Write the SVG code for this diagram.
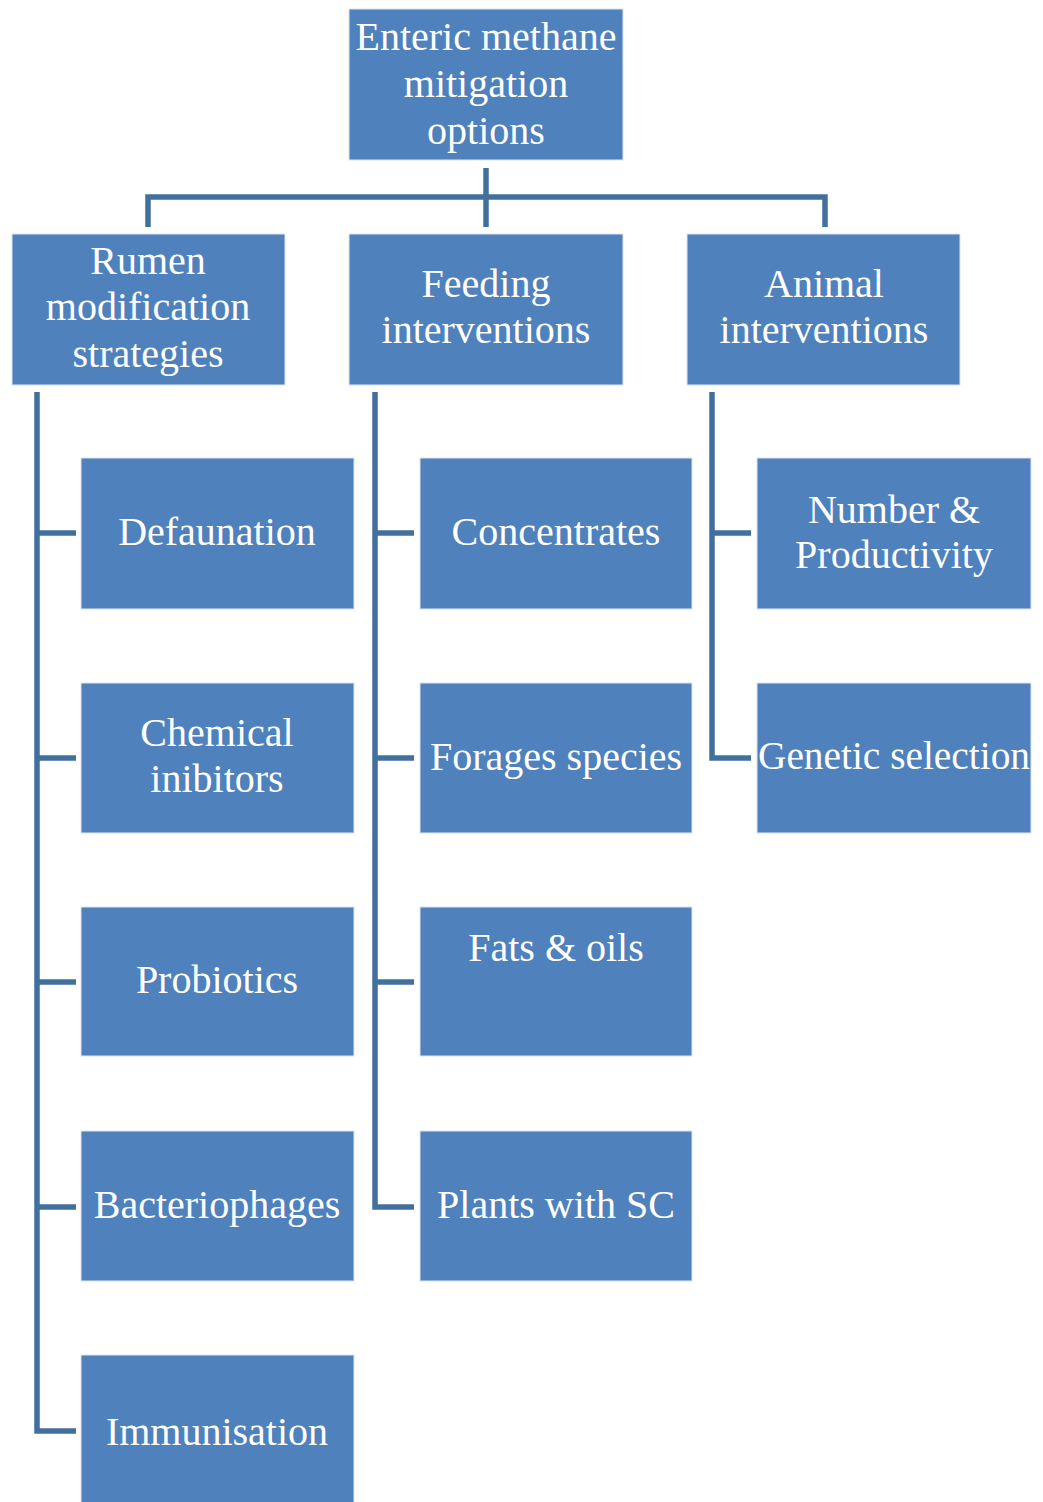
<svg xmlns="http://www.w3.org/2000/svg" width="1043" height="1502" viewBox="0 0 1043 1502">
<style>
.box{fill:#4F81BD;stroke:#DCE6F2;stroke-width:1}
.t{font-family:"Liberation Serif","Times New Roman",serif;font-size:40px;fill:#FFFFFF;text-anchor:middle}
.c{fill:none;stroke:#41709F;stroke-width:5.5;stroke-linejoin:miter;stroke-linecap:butt}
</style>
<rect width="1043" height="1502" fill="#FFFFFF"/>
<g id="connectors">
<path class="c" d="M486 168V197M148 227V197H825V227M486 197V227"/>
<path class="c" d="M37 392V1431H76M37 533H76M37 758H76M37 982H76M37 1207H76"/>
<path class="c" d="M375 392V1207H414M375 533H414M375 758H414M375 982H414"/>
<path class="c" d="M712 392V758H751M712 533H751"/>
</g>
<g id="root"><rect class="box" x="349" y="9" width="274" height="151"/>
<text class="t" x="486" y="50">Enteric methane</text><text class="t" x="486" y="97">mitigation</text><text class="t" x="486" y="144">options</text></g>
<g id="rumen"><rect class="box" x="12" y="234" width="273" height="151"/>
<text class="t" x="148" y="274">Rumen</text><text class="t" x="148" y="320">modification</text><text class="t" x="148" y="367">strategies</text></g>
<g id="feeding"><rect class="box" x="349" y="234" width="274" height="151"/>
<text class="t" x="486" y="297">Feeding</text><text class="t" x="486" y="343">interventions</text></g>
<g id="animal"><rect class="box" x="687" y="234" width="273" height="151"/>
<text class="t" x="824" y="297">Animal</text><text class="t" x="824" y="343">interventions</text></g>
<g id="defaunation"><rect class="box" x="81" y="458" width="273" height="151"/><text class="t" x="217" y="545">Defaunation</text></g>
<g id="chemical"><rect class="box" x="81" y="683" width="273" height="150"/><text class="t" x="217" y="746">Chemical</text><text class="t" x="217" y="792">inibitors</text></g>
<g id="probiotics"><rect class="box" x="81" y="907" width="273" height="149"/><text class="t" x="217" y="993">Probiotics</text></g>
<g id="bacteriophages"><rect class="box" x="81" y="1131" width="273" height="150"/><text class="t" x="217" y="1218">Bacteriophages</text></g>
<g id="immunisation"><rect class="box" x="81" y="1355" width="273" height="150"/><text class="t" x="217" y="1445">Immunisation</text></g>
<g id="concentrates"><rect class="box" x="420" y="458" width="272" height="151"/><text class="t" x="556" y="545">Concentrates</text></g>
<g id="forages"><rect class="box" x="420" y="683" width="272" height="150"/><text class="t" x="556" y="770">Forages species</text></g>
<g id="fats"><rect class="box" x="420" y="907" width="272" height="149"/><text class="t" x="556" y="961">Fats &amp; oils</text></g>
<g id="plants"><rect class="box" x="420" y="1131" width="272" height="150"/><text class="t" x="556" y="1218">Plants with SC</text></g>
<g id="number"><rect class="box" x="757" y="458" width="274" height="151"/><text class="t" x="894" y="523">Number &amp;</text><text class="t" x="894" y="568">Productivity</text></g>
<g id="genetic"><rect class="box" x="757" y="683" width="274" height="150"/><text class="t" x="894" y="769" textLength="272" lengthAdjust="spacingAndGlyphs">Genetic selection</text></g>
</svg>
